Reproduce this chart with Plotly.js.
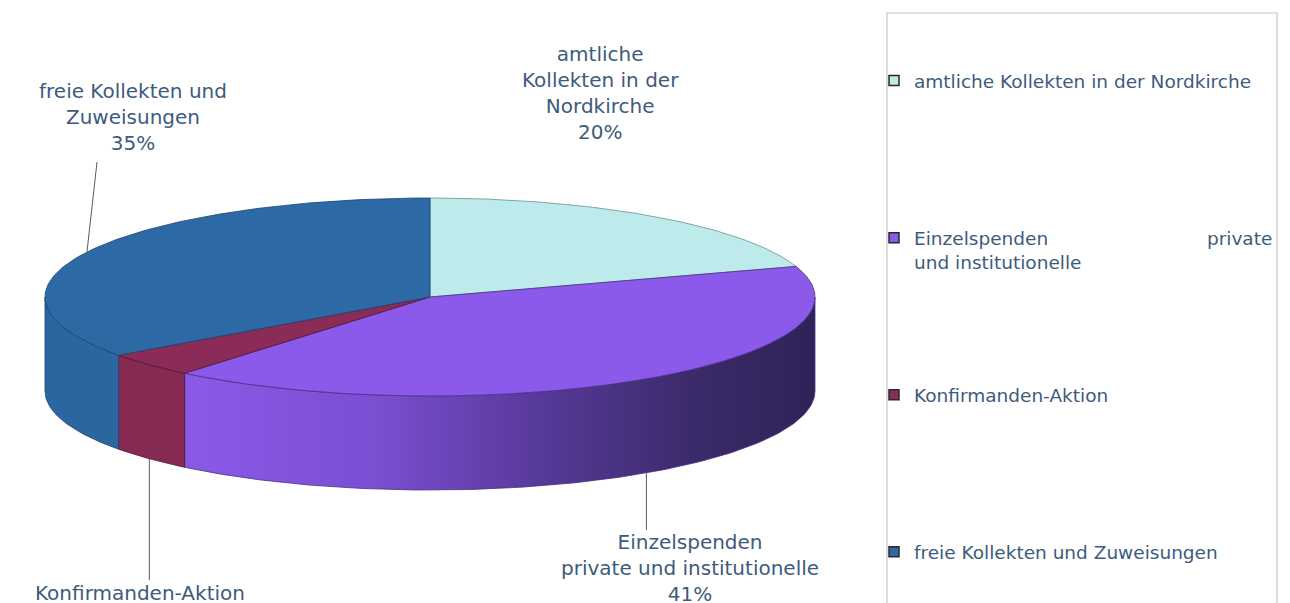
<!DOCTYPE html>
<html><head><meta charset="utf-8">
<script src="https://cdn.plot.ly/plotly-3.0.1.min.js"></script>
<style>html,body{margin:0;padding:0;background:#fff}#chart{width:1290px;height:603px}</style>
</head><body><div id="chart"></div>
<script>
// ---------- data ----------
const categories = ['amtliche Kollekten in der Nordkirche', 'Einzelspenden private und institutionelle', 'Konfirmanden-Aktion', 'freie Kollekten und Zuweisungen'];
const values = [20, 41, 4, 35];
const sliceLabels = ['amtliche<br>Kollekten in der<br>Nordkirche', 'Einzelspenden<br>private und institutionelle', 'Konfirmanden-Aktion', 'freie Kollekten und<br>Zuweisungen'];
const legendLabels = ['amtliche Kollekten in der Nordkirche<br>\u00a0',
  'Einzelspenden' + '\u00a0'.repeat(27) + 'private<br>und institutionelle',
  'Konfirmanden-Aktion<br>\u00a0',
  'freie Kollekten und Zuweisungen<br>\u00a0'];

// ---------- styles / layout constants ----------
const topColors = ['#bdeaea', '#8b5aea', '#8b2b57', '#2c69a5'];
const sideColors = ['#9fd0d0', null, '#862a54', '#2b66a0'];
const edgeColors = ['#6f8f96', '#4a2f80', '#4f1830', '#1d4470'];
const purpleSideScale = [[0, '#8b5ae8'], [0.3, '#7a4fd2'], [0.58, '#553896'], [0.82, '#3a2a68'], [1, '#2f2258']];
// label anchor [x, y, yanchor]
const labelPos = [[600, 93, 'middle'], [690, 568, 'middle'], [140, 579, 'top'], [133, 117, 'middle']];
const leaderEnd = [null, [null, 530], [null, 580], [97, 162]];
const textColor = '#3e5b7d';

const cx = 430, cy = 297, rx = 385, ry = 99, depth = 94;
const total = values.reduce((a, b) => a + b, 0);
const deg = Math.PI / 180;
function pt(t, dy) { return [cx + rx * Math.sin(t), cy - ry * Math.cos(t) + (dy || 0)]; }
function arc(t0, t1, dy) {
  const n = Math.max(2, Math.ceil((t1 - t0) / deg));
  const xs = [], ys = [];
  for (let i = 0; i <= n; i++) { const p = pt(t0 + (t1 - t0) * i / n, dy); xs.push(p[0]); ys.push(p[1]); }
  return [xs, ys];
}

const starts = [], ends = [];
let acc = 0;
values.forEach(v => { starts.push(acc / total * 2 * Math.PI); acc += v; ends.push(acc / total * 2 * Math.PI); });

const traces = [];
// side faces (front half only: 90deg..270deg)
values.forEach((v, i) => {
  const a0 = Math.max(starts[i], 90 * deg), a1 = Math.min(ends[i], 270 * deg);
  if (a1 <= a0) return;
  const top = arc(a0, a1, 0), bot = arc(a0, a1, depth);
  const xs = top[0].concat(bot[0].slice().reverse()); xs.push(xs[0]);
  const ys = top[1].concat(bot[1].slice().reverse()); ys.push(ys[0]);
  const tr = {type: 'scatter', mode: 'lines', x: xs, y: ys, fill: 'toself', hoverinfo: 'skip', showlegend: false,
    line: {color: edgeColors[i], width: 0.8}, legendgroup: 'g' + i};
  if (sideColors[i]) tr.fillcolor = sideColors[i];
  else tr.fillgradient = {type: 'horizontal', colorscale: purpleSideScale};
  traces.push(tr);
});
// top faces
values.forEach((v, i) => {
  const a = arc(starts[i], ends[i], 0);
  const xs = [cx].concat(a[0], [cx]);
  const ys = [cy].concat(a[1], [cy]);
  traces.push({type: 'scatter', mode: 'lines', x: xs, y: ys, fill: 'toself', fillcolor: topColors[i],
    line: {color: edgeColors[i], width: 0.8}, hoverinfo: 'skip', showlegend: false, legendgroup: 'g' + i, name: categories[i]});
});
// leader lines
values.forEach((v, i) => {
  if (!leaderEnd[i]) return;
  const mid = (starts[i] + ends[i]) / 2;
  const front = mid > 90 * deg && mid < 270 * deg;
  const p = pt(mid, front ? depth : 0);
  const ex = leaderEnd[i][0] === null ? p[0] : leaderEnd[i][0];
  traces.push({type: 'scatter', mode: 'lines', x: [p[0], ex], y: [p[1], leaderEnd[i][1]],
    line: {color: '#5a5a5a', width: 1}, hoverinfo: 'skip', showlegend: false});
});
// legend entries
values.forEach((v, i) => {
  traces.push({type: 'scatter', mode: 'markers', x: [null], y: [null], name: legendLabels[i], legendgroup: 'g' + i,
    showlegend: true, hoverinfo: 'skip',
    marker: {symbol: 'square', size: 10, color: topColors[i], line: {color: '#2a2a2a', width: 1.5}}});
});

const annotations = values.map((v, i) => ({
  x: labelPos[i][0], y: labelPos[i][1], xref: 'x', yref: 'y', showarrow: false,
  text: sliceLabels[i] + '<br>' + Math.round(v / total * 100) + '%',
  align: 'center', xanchor: 'center', yanchor: labelPos[i][2],
  font: {family: 'DejaVu Sans', size: 20, color: textColor}
}));

const layout = {
  width: 1290, height: 603, margin: {l: 0, r: 0, t: 0, b: 0, autoexpand: false},
  paper_bgcolor: '#ffffff', plot_bgcolor: '#ffffff',
  xaxis: {range: [0, 1290], visible: false, fixedrange: true},
  yaxis: {range: [603, 0], visible: false, fixedrange: true},
  showlegend: true,
  legend: {x: 874 / 1290, y: 1 - 62 / 603, xanchor: 'left', yanchor: 'top', traceorder: 'grouped',
    tracegroupgap: 106, valign: 'top', bgcolor: 'rgba(0,0,0,0)', borderwidth: 0, itemwidth: 30,
    font: {family: 'DejaVu Sans', size: 18.5, color: textColor}},
  shapes: [{type: 'rect', xref: 'paper', yref: 'paper', x0: 887 / 1290, x1: 1277 / 1290, y0: -0.05, y1: 1 - 13 / 603,
    line: {color: '#c6c6c6', width: 1.2}, fillcolor: 'rgba(0,0,0,0)', layer: 'below'}],
  annotations: annotations
};

Plotly.newPlot('chart', traces, layout, {displayModeBar: false, staticPlot: true});
</script>
</body></html>
